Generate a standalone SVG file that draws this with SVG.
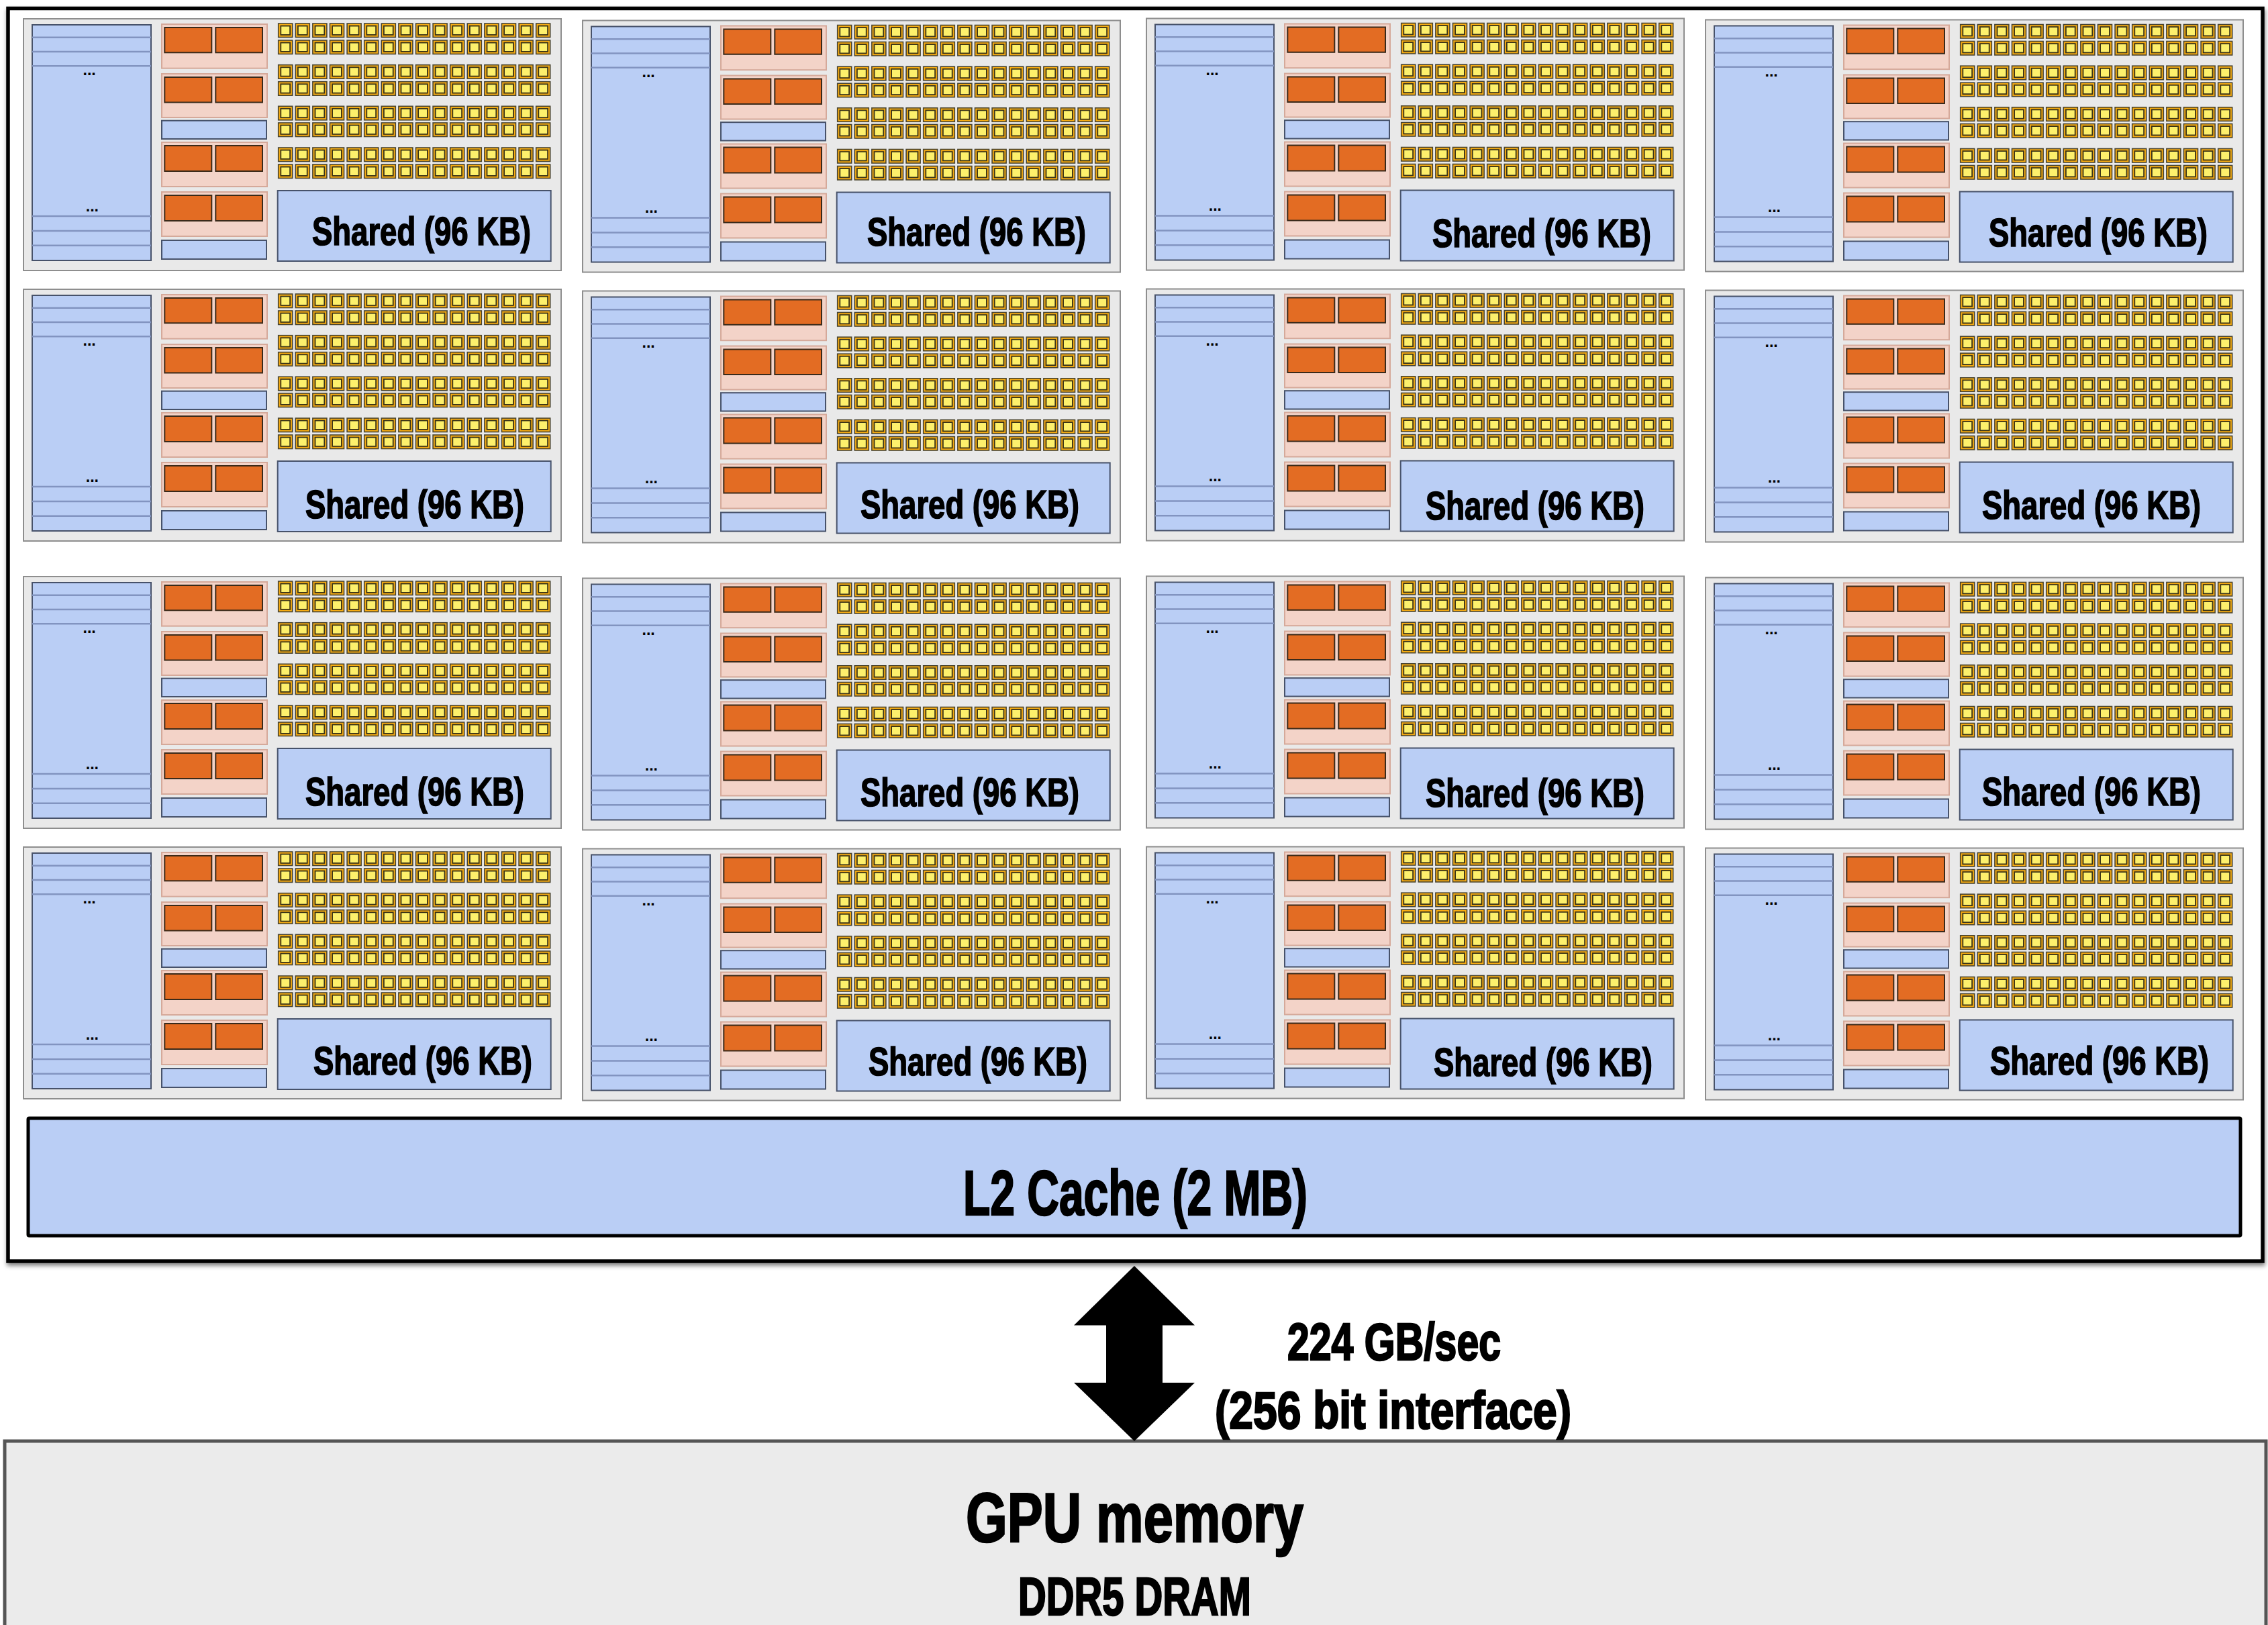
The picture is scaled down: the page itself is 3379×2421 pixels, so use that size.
<svg xmlns="http://www.w3.org/2000/svg" xmlns:xlink="http://www.w3.org/1999/xlink" width="3379" height="2421" viewBox="0 0 3379 2421">
<style>
text{font-family:"Liberation Sans Narrow","Liberation Sans",Arial,sans-serif;font-weight:700;fill:#000;stroke:#000;stroke-width:2.6}
.sh{font-size:60px;stroke-width:1.7}
.dots{font-family:"Liberation Sans",Arial,sans-serif;font-size:23px;stroke:none}
.core{fill:#e9e9e9;stroke:#8e8e8e;stroke-width:2}
.blue{fill:#bacef5;stroke:#47526a;stroke-width:2}
.ln{stroke:#8294c0;stroke-width:2.5}
.pink{fill:#f3d3c8;stroke:#d5a99a;stroke-width:2}
.or{fill:#e36c23;stroke:#3a2a1a;stroke-width:2}
.co{fill:#f7ac12;stroke:#4a4530;stroke-width:1.6}
.ci{fill:#fdf06c;stroke:#3a3418;stroke-width:1.8}
</style>
<defs>
<filter id="shadow" x="-2%" y="-2%" width="104%" height="104%"><feDropShadow dx="1" dy="4" stdDeviation="3" flood-color="#000" flood-opacity=".5"/></filter>
<g id="cell"><rect class="co" width="21" height="20.5"/><rect class="ci" x="3.6" y="3.6" width="13.8" height="13.3"/></g>
<g id="row">
<use href="#cell" x="0"/><use href="#cell" x="25.6"/><use href="#cell" x="51.2"/><use href="#cell" x="76.8"/><use href="#cell" x="102.4"/><use href="#cell" x="128"/><use href="#cell" x="153.6"/><use href="#cell" x="179.2"/><use href="#cell" x="204.8"/><use href="#cell" x="230.4"/><use href="#cell" x="256"/><use href="#cell" x="281.6"/><use href="#cell" x="307.2"/><use href="#cell" x="332.8"/><use href="#cell" x="358.4"/><use href="#cell" x="384"/>
</g>
<g id="core">
<rect class="core" width="801" height="375"/>
<rect class="blue" x="13" y="9" width="177" height="351"/>
<path class="ln" d="M13 27.7H190M13 49H190M13 70.3H190M13 294H190M13 316H190M13 337.7H190"/>
<text class="dots" x="88.5" y="84">...</text>
<text class="dots" x="92.8" y="286.5">...</text>
<rect class="pink" x="206" y="8" width="157" height="65.7"/>
<rect class="pink" x="206" y="82" width="157" height="65"/>
<rect class="pink" x="206" y="184" width="157" height="66"/>
<rect class="pink" x="206" y="258" width="157" height="66"/>
<rect class="or" x="210.3" y="13" width="70" height="37.3"/><rect class="or" x="286.3" y="13" width="69.7" height="37.3"/>
<rect class="or" x="210.3" y="87" width="70" height="37.5"/><rect class="or" x="286.3" y="87" width="69.7" height="37.5"/>
<rect class="or" x="210.3" y="189" width="70" height="38"/><rect class="or" x="286.3" y="189" width="69.7" height="38"/>
<rect class="or" x="210.3" y="263" width="70" height="38"/><rect class="or" x="286.3" y="263" width="69.7" height="38"/>
<rect class="blue" x="206" y="151.7" width="156" height="27.3"/>
<rect class="blue" x="206" y="330" width="156" height="28"/>
<use href="#row" x="379.7" y="7"/><use href="#row" x="379.7" y="32"/>
<use href="#row" x="379.7" y="68.7"/><use href="#row" x="379.7" y="93.7"/>
<use href="#row" x="379.7" y="130.3"/><use href="#row" x="379.7" y="155"/>
<use href="#row" x="379.7" y="192"/><use href="#row" x="379.7" y="217"/>
<rect class="blue" x="378.7" y="256" width="407" height="105"/>
</g>
</defs>
<rect width="3379" height="2421" fill="#fff"/>
<g id="gpu-memory">
<rect x="7" y="2147" width="3369" height="300" fill="#ebebeb" stroke="#555" stroke-width="5"/>
<text x="1439" y="2297" font-size="104" textLength="503" lengthAdjust="spacingAndGlyphs">GPU memory</text>
<text x="1517" y="2406" font-size="80" textLength="347" lengthAdjust="spacingAndGlyphs">DDR5 DRAM</text>
</g>
<g id="gpu">
<rect x="12" y="12.5" width="3359" height="1866.5" fill="#fff" stroke="#000" stroke-width="5.5" filter="url(#shadow)"/>
</g>
<g id="l2-cache">
<rect x="42" y="1666" width="3296" height="175" rx="1.5" fill="#bacef5" stroke="#000" stroke-width="5"/>
<text x="1435" y="1810" font-size="95" textLength="513" lengthAdjust="spacingAndGlyphs">L2 Cache (2 MB)</text>
</g>
<g id="core-r1c1" transform="translate(35 28)"><use href="#core"/><text class="sh" x="430" y="337" textLength="326" lengthAdjust="spacingAndGlyphs">Shared (96 KB)</text></g>
<g id="core-r1c2" transform="translate(868 30.5)"><use href="#core"/><text class="sh" x="424" y="335" textLength="326" lengthAdjust="spacingAndGlyphs">Shared (96 KB)</text></g>
<g id="core-r1c3" transform="translate(1708 27.5)"><use href="#core"/><text class="sh" x="426" y="340" textLength="326" lengthAdjust="spacingAndGlyphs">Shared (96 KB)</text></g>
<g id="core-r1c4" transform="translate(2541 29.5)"><use href="#core"/><text class="sh" x="422" y="337" textLength="326" lengthAdjust="spacingAndGlyphs">Shared (96 KB)</text></g>
<g id="core-r2c1" transform="translate(35 431)"><use href="#core"/><text class="sh" x="420" y="341" textLength="326" lengthAdjust="spacingAndGlyphs">Shared (96 KB)</text></g>
<g id="core-r2c2" transform="translate(868 433.5)"><use href="#core"/><text class="sh" x="414" y="338" textLength="326" lengthAdjust="spacingAndGlyphs">Shared (96 KB)</text></g>
<g id="core-r2c3" transform="translate(1708 430.5)"><use href="#core"/><text class="sh" x="416" y="343" textLength="326" lengthAdjust="spacingAndGlyphs">Shared (96 KB)</text></g>
<g id="core-r2c4" transform="translate(2541 432.5)"><use href="#core"/><text class="sh" x="412" y="340" textLength="326" lengthAdjust="spacingAndGlyphs">Shared (96 KB)</text></g>
<g id="core-r3c1" transform="translate(35 859)"><use href="#core"/><text class="sh" x="420" y="341" textLength="326" lengthAdjust="spacingAndGlyphs">Shared (96 KB)</text></g>
<g id="core-r3c2" transform="translate(868 861.5)"><use href="#core"/><text class="sh" x="414" y="339" textLength="326" lengthAdjust="spacingAndGlyphs">Shared (96 KB)</text></g>
<g id="core-r3c3" transform="translate(1708 858.5)"><use href="#core"/><text class="sh" x="416" y="343" textLength="326" lengthAdjust="spacingAndGlyphs">Shared (96 KB)</text></g>
<g id="core-r3c4" transform="translate(2541 860.5)"><use href="#core"/><text class="sh" x="412" y="339" textLength="326" lengthAdjust="spacingAndGlyphs">Shared (96 KB)</text></g>
<g id="core-r4c1" transform="translate(35 1262)"><use href="#core"/><text class="sh" x="432" y="339" textLength="326" lengthAdjust="spacingAndGlyphs">Shared (96 KB)</text></g>
<g id="core-r4c2" transform="translate(868 1264.5)"><use href="#core"/><text class="sh" x="426" y="337" textLength="326" lengthAdjust="spacingAndGlyphs">Shared (96 KB)</text></g>
<g id="core-r4c3" transform="translate(1708 1261.5)"><use href="#core"/><text class="sh" x="428" y="341" textLength="326" lengthAdjust="spacingAndGlyphs">Shared (96 KB)</text></g>
<g id="core-r4c4" transform="translate(2541 1263.5)"><use href="#core"/><text class="sh" x="424" y="337" textLength="326" lengthAdjust="spacingAndGlyphs">Shared (96 KB)</text></g>
<g id="connectors">
<polygon points="1690,1886 1780,1974.5 1732,1974.5 1732,2060 1780,2060 1690,2147 1600,2060 1648,2060 1648,1974.5 1600,1974.5" fill="#000"/>
</g>
<g id="link-label">
<text x="1918" y="2026" font-size="78" textLength="318" lengthAdjust="spacingAndGlyphs">224 GB/sec</text>
<text x="1810" y="2128" font-size="78" textLength="531" lengthAdjust="spacingAndGlyphs">(256 bit interface)</text>
</g>
</svg>
